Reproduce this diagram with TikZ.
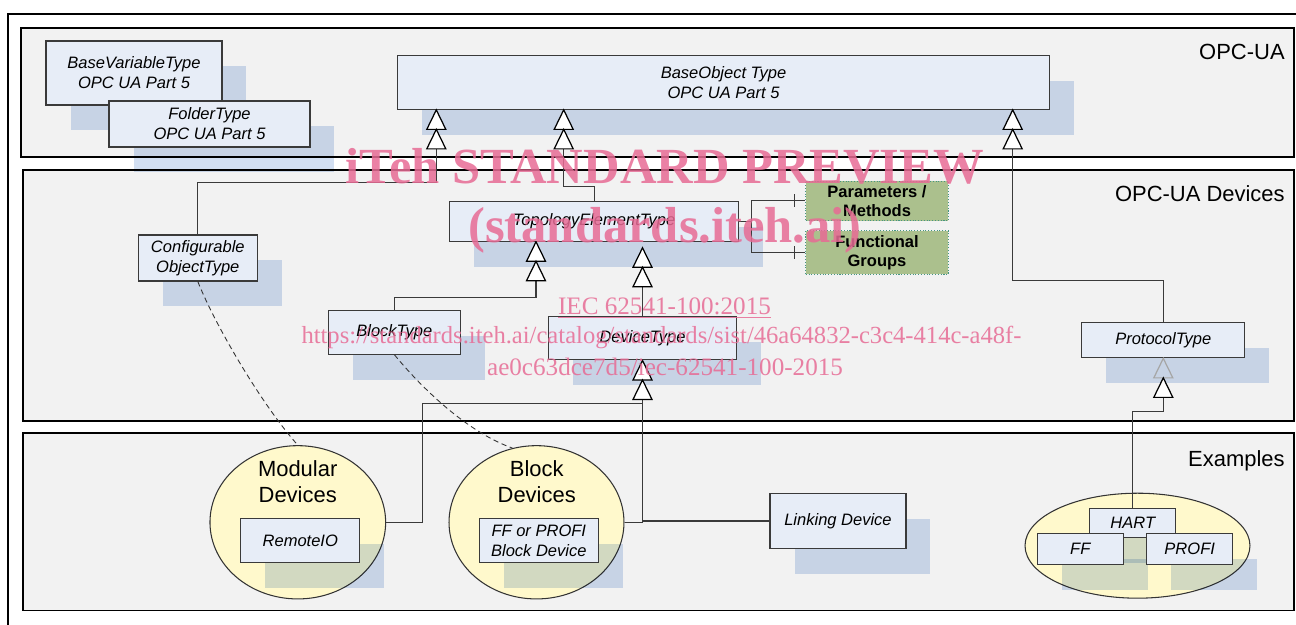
\documentclass[tikz,border=0pt]{standalone}
\usepackage{fontspec}
\setmainfont{Liberation Sans}
\newfontfamily\wmfont{Liberation Serif}
\usetikzlibrary{shadows,calc,shapes.geometric}
\definecolor{secfill}{HTML}{F2F2F2}
\definecolor{boxfill}{HTML}{E7EDF7}
\definecolor{boxline}{HTML}{3A3A3A}
\definecolor{shadowc}{RGB}{210,223,242}
\definecolor{shadowon}{RGB}{199,211,229}
\definecolor{ellfill}{HTML}{FFF9CC}
\definecolor{greenfill}{RGB}{171,192,141}
\definecolor{greenline}{RGB}{70,150,130}
\definecolor{wmpink}{RGB}{231,107,149}
\newcommand{\gentri}[1]{\path[tri] (#1) -- ++(-9.5,19.5) -- ++(19,0) -- cycle;}
\newcommand{\fadetri}[1]{\path[tri,draw=black!35,fill=shadowon] (#1) -- ++(-9.5,19.5) -- ++(19,0) -- cycle;}
\begin{document}
\begin{tikzpicture}[x=0.02cm,y=-0.02cm,
  sec/.style={draw=black,line width=1.1pt,fill=secfill},
  seclabel/.style={anchor=base east,inner sep=0,font=\fontsize{12.5}{15}\selectfont},
  tbox/.style={draw=boxline,fill=boxfill,line width=0.6pt,inner sep=0,align=center,
     font=\fontsize{9.4}{11.3}\selectfont\itshape,
     drop shadow={shadow xshift=0.49cm,shadow yshift=-0.51cm,fill=shadowc,opacity=1,blend mode=multiply}},
  gbox/.style={draw=greenline,densely dotted,fill=greenfill,line width=0.6pt,inner sep=0,
     align=center,font=\fontsize{9.4}{10.8}\selectfont\bfseries},
  ell/.style={ellipse,draw=black!80,fill=ellfill,line width=0.6pt,inner sep=0},
  elltext/.style={align=center,inner sep=0,font=\fontsize{12.5}{15.1}\selectfont},
  conn/.style={draw=boxline,line width=0.6pt},
  dashconn/.style={draw=black!80,line width=0.5pt,dash pattern=on 3pt off 2pt},
  tri/.style={draw=black,fill=white,line width=0.7pt,line join=miter},
  wm/.style={text=wmpink,text opacity=0.85,inner sep=0,anchor=base}]

\useasboundingbox (0,0) rectangle (1296,625);
\clip (0,0) rectangle (1296,625);

% outer frame
\draw[line width=1pt] (1320,13.7) -- (8,13.7) -- (8,650);

% sections
\draw[sec] (20.7,28) rectangle (1294.3,157.3);
\draw[sec] (22.7,170) rectangle (1294.3,420.7);
\draw[sec] (22.7,433.3) rectangle (1294.3,610.5);
\node[seclabel] (l1) at (1285,59.6) {OPC-UA};
\node[seclabel] (l2) at (1285,201.5) {OPC-UA Devices};
\node[seclabel] (l3) at (1285,466.7) {Examples};

% ellipses
\node[ell,minimum width=3.514cm,minimum height=3.066cm] (mod) at (297.8,522.3) {};
\node[elltext] (modt) at (297.7,481.7) {Modular\\Devices};
\node[ell,minimum width=3.5cm,minimum height=3.066cm] (bdev) at (536.5,522.3) {};
\node[elltext] (bdevt) at (536.7,481.7) {Block\\Devices};
\node[ell,minimum width=4.5cm,minimum height=2.1cm] (hel) at (1137.5,545.7) {};

% boxes
\node[tbox,minimum width=3.52cm,minimum height=1.28cm] (bvt) at (134,73) {BaseVariableType\\OPC UA Part 5};
\node[tbox,minimum width=4.02cm,minimum height=0.92cm] (fld) at (209.5,124) {FolderType\\OPC UA Part 5};
\node[tbox,minimum width=13.06cm,minimum height=1.086cm] (bo) at (723.5,82.2) {BaseObject Type\\OPC UA Part 5};
\node[tbox,minimum width=2.38cm,minimum height=0.92cm] (cfg) at (197.8,258) {Configurable\\ObjectType};
\node[tbox,minimum width=5.772cm,minimum height=0.79cm] (top) at (594.1,221.5) {TopologyElementType};
\node[gbox,minimum width=2.852cm,minimum height=0.794cm] (par) at (877,200.9) {Parameters /\\Methods};
\node[gbox,minimum width=2.852cm,minimum height=0.872cm] (fg) at (877,252.5) {Functional\\Groups};
\node[tbox,minimum width=2.64cm,minimum height=0.874cm] (blk) at (394.3,332.2) {BlockType};
\node[tbox,minimum width=3.768cm,minimum height=0.866cm] (dev) at (642.5,338.3) {DeviceType};
\node[tbox,minimum width=3.266cm,minimum height=0.702cm] (prot) at (1163.3,340.3) {ProtocolType};
\node[tbox,minimum width=2.386cm,minimum height=0.88cm] (rio) at (300.3,540.7) {RemoteIO};
\node[tbox,minimum width=2.38cm,minimum height=0.88cm] (ffb) at (538.8,540.7) {FF or PROFI\\Block Device};
\node[tbox,minimum width=2.72cm,minimum height=1.092cm] (lnk) at (838,521) {Linking Device};
\node[tbox,minimum width=1.714cm,minimum height=0.58cm] (hart) at (1132.8,523.2) {HART};
\node[tbox,minimum width=1.72cm,minimum height=0.62cm] (ff) at (1080.3,549) {FF};
\node[tbox,minimum width=1.72cm,minimum height=0.62cm] (prf) at (1189.7,549) {PROFI};

% connectors to BaseObject Type
\coordinate (j1) at (436.3,182.7);
\draw[conn] (cfg.north) |- (j1) -- ($(bo.south -| j1)+(0,39)$);
\gentri{bo.south -| j1} \gentri{$(bo.south -| j1)+(0,19.5)$}
\coordinate (j2) at (563.7,186.7);
\draw[conn] (top.north) |- (j2) -- ($(bo.south -| j2)+(0,39)$);
\gentri{bo.south -| j2} \gentri{$(bo.south -| j2)+(0,19.5)$}
\coordinate (j3) at (1012.7,280.8);
\draw[conn] (prot.north) |- (j3) -- ($(bo.south -| j3)+(0,39)$);
\gentri{bo.south -| j3} \gentri{$(bo.south -| j3)+(0,19.5)$}

% connectors to TopologyElementType
\coordinate (j4) at (536,297.3);
\draw[conn] (blk.north) |- (j4) -- ($(top.south -| j4)+(0,39)$);
\gentri{top.south -| j4} \gentri{$(top.south -| j4)+(0,19.5)$}
\draw[conn] (dev.north) -- ($(top.south -| dev.north)+(0,45)$);
\gentri{$(top.south -| dev.north)+(0,6)$} \gentri{$(top.south -| dev.north)+(0,25.5)$}

% parameters / functional groups
\coordinate (jk) at ($(top.east)+(12.8,0)$);
\draw[conn] (top.east) -- (jk);
\draw[conn] (par.west) -| (jk) |- (fg.west);
\draw[conn] ($(par.west)+(-10.7,-6.5)$) -- ++(0,13);
\draw[conn] ($(fg.west)+(-10.7,-6.5)$) -- ++(0,13);

% examples to DeviceType
\coordinate (d0) at ($(dev.south)+(0,39)$);
\draw[conn] (d0) |- (bdev.east);
\draw[conn] (lnk.west -| d0) -- (lnk.west);
\coordinate (jm) at (422.7,522.3);
\draw[conn] ($(d0)+(0,4)$) -| (jm) -- (mod.east);
\gentri{dev.south} \gentri{$(dev.south)+(0,19.5)$}

% HART to ProtocolType
\coordinate (j6) at ($(prot.south)+(0,52.7)$);
\draw[conn] (hart.north) |- (j6) -- ($(prot.south)+(0,39)$);
\fadetri{prot.south} \gentri{$(prot.south)+(0,19.5)$}

% dashed instance links
\draw[dashconn] (cfg.south) .. controls (215,325) and (262,405) .. (mod.north);
\draw[dashconn] (blk.south) .. controls (415,380) and (462,430) .. (bdev.108.6);

% watermark
\node[wm,font=\wmfont\bfseries\fontsize{28.8}{30}\selectfont] (wm1) at (665,183.3) {iTeh STANDARD PREVIEW};
\node[wm,font=\wmfont\bfseries\fontsize{28.8}{30}\selectfont] (wm2) at (665,242) {(standards.iteh.ai)};
\node[wm,font=\wmfont\fontsize{14.3}{16}\selectfont] (wm3) at (664.5,315) {\underline{IEC 62541-100:2015}};
\node[wm,font=\wmfont\fontsize{14}{16}\selectfont] (wm4) at (661.5,343.3) {https://standards.iteh.ai/catalog/standards/sist/46a64832-c3c4-414c-a48f-};
\node[wm,font=\wmfont\fontsize{14.3}{16}\selectfont] (wm5) at (665,375.7) {ae0c63dce7d5/iec-62541-100-2015};
\end{tikzpicture}
\end{document}
